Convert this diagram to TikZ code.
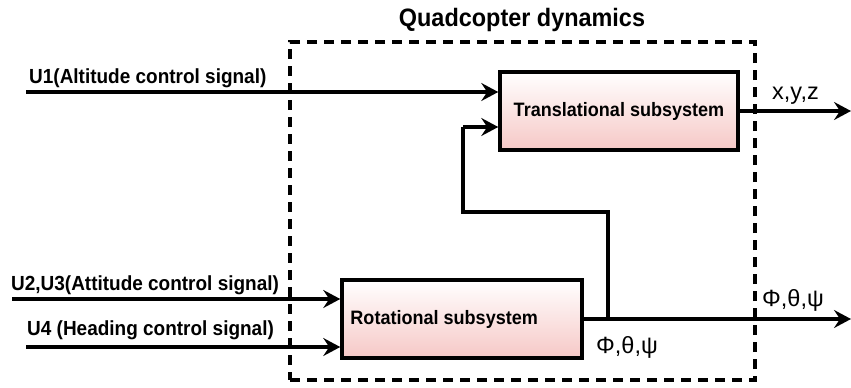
\documentclass[tikz,border=0pt]{standalone}
\usepackage{fontspec}
\setmainfont{Liberation Sans}
\newfontfamily\labfont{Liberation Sans}[FakeStretch=0.93]
\usetikzlibrary{arrows.meta}
\definecolor{pinkb}{RGB}{246,200,198}
\tikzset{
  x=1pt,y=-1pt,
  sig/.style={line width=3.7pt,-{Stealth[length=17pt,width=18pt,inset=6pt]}},
  wire/.style={line width=3.7pt},
  subsys/.style={draw,line width=3.5pt,top color=white,bottom color=pinkb,inner sep=0pt},
  subtext/.style={font=\labfont\fontsize{19.4}{22}\selectfont\bfseries,inner sep=0pt},
  lab/.style={font=\labfont\fontsize{20.4}{23}\selectfont\bfseries,inner sep=0pt},
  greek/.style={font=\fontsize{23.5}{27}\selectfont,inner sep=0pt},
  dyn/.style={draw,line width=3.5pt,dash pattern=on 10pt off 7pt,inner sep=0pt}
}
\begin{document}
\begin{tikzpicture}
\useasboundingbox (0,0) rectangle (851,388);
\node[font=\labfont\fontsize{25.2}{29}\selectfont\bfseries,inner sep=0pt,anchor=base] (title) at (522,27) {Quadcopter dynamics};
\node[dyn,minimum width=465pt,minimum height=338pt] (box) at (522.5,211) {};
\node[subsys,minimum width=238pt,minimum height=78pt] (trans) at (619,111) {};
\node[subtext] (transt) at (trans.center) {Translational subsystem};
\node[subsys,minimum width=240pt,minimum height=78pt] (rot) at (462,319) {};
\node[subtext,anchor=west] (rott) at ([xshift=10pt]rot.west) {Rotational subsystem};
% inputs
\coordinate (u1) at (26,92);
\coordinate (u23) at (12,299);
\coordinate (u4) at (26,347);
\draw[sig] (u1) -- (u1 -| trans.west);
\draw[sig] (u23) -- (u23 -| rot.west);
\draw[sig] (u4) -- (u4 -| rot.west);
\node[lab,anchor=base west] (l1) at (29,83) {U1(Altitude control signal)};
\node[lab,anchor=base west] (l23) at (11,290) {U2,U3(Attitude control signal)};
\node[lab,anchor=base west] (l4) at (27,335) {U4 (Heading control signal)};
% outputs
\coordinate (oxyz) at (851,111);
\coordinate (orot) at (851,319);
\draw[sig] (trans.east) -- (oxyz);
\draw[sig] (rot.east |- orot) -- (orot);
\node[greek,anchor=base west] (lxyz) at (772,99) {x,y,z};
\node[greek,anchor=base west] (lg1) at (762,306) {Φ,θ,ψ};
\node[greek,anchor=base west] (lg2) at (596,353) {Φ,θ,ψ};
% feedback
\coordinate (br) at (608,319);
\coordinate (c1) at (608,212);
\coordinate (c2) at (463,212);
\coordinate (c3) at (463,127);
\draw[wire] (br) -- (c1) -- (c2) -- (c3);
\draw[sig] (c3) -- (c3 -| trans.west);
\end{tikzpicture}
\end{document}
